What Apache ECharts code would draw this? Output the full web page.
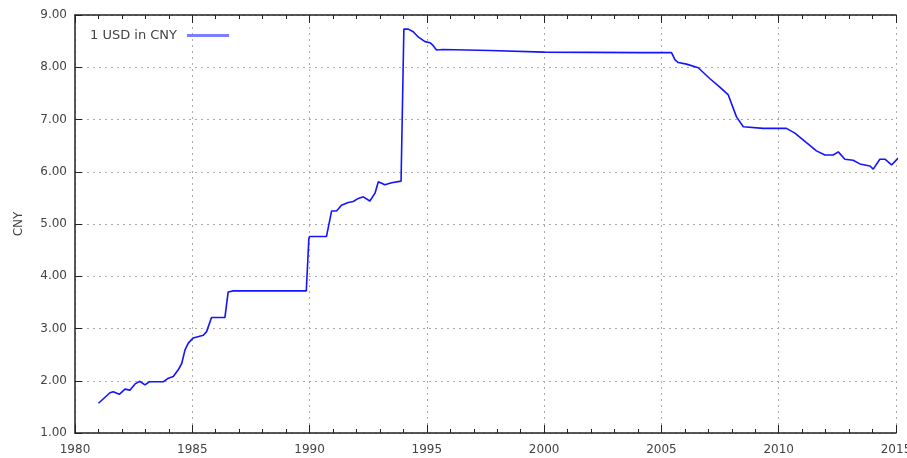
<!DOCTYPE html>
<html>
<head>
<meta charset="utf-8">
<script src="https://cdn.jsdelivr.net/npm/echarts@6/dist/echarts.min.js"></script>
<style>
  html, body { margin: 0; padding: 0; background: #fff; }
  #chart { width: 907px; height: 458px; }
</style>
</head>
<body>
<div id="chart"></div>
<script>
// years (decimal) and rate
const years = [
  1981.0, 1981.49, 1981.63, 1981.89, 1982.13, 1982.34, 1982.56, 1982.77, 1982.98, 1983.17,
  1983.76, 1983.98, 1984.19, 1984.40, 1984.55, 1984.69, 1984.83, 1985.04, 1985.47, 1985.61,
  1985.82, 1986.39, 1986.53, 1986.75, 1989.86, 1989.97, 1990.0, 1990.72, 1990.94, 1991.15,
  1991.36, 1991.65, 1991.86, 1992.08, 1992.29, 1992.57, 1992.79, 1992.93, 1993.21, 1993.50,
  1993.90, 1994.02, 1994.21, 1994.42, 1994.63, 1994.92, 1995.13, 1995.24, 1995.41, 1995.69,
  1997.69, 2000.0, 2004.08, 2005.43, 2005.58, 2005.72, 2006.07, 2006.57, 2007.07, 2007.49,
  2007.85, 2008.20, 2008.49, 2009.34, 2010.33, 2010.69, 2011.04, 2011.61, 2011.97, 2012.32,
  2012.54, 2012.82, 2013.17, 2013.46, 2013.89, 2014.03, 2014.31, 2014.53, 2014.81, 2015.09
]
const cny = [
  1.57, 1.77, 1.79, 1.74, 1.84, 1.82, 1.94, 1.99, 1.92, 1.98,
  1.98, 2.05, 2.08, 2.21, 2.33, 2.59, 2.72, 2.82, 2.87, 2.94,
  3.21, 3.21, 3.70, 3.72, 3.72, 4.72, 4.76, 4.76, 5.25, 5.25,
  5.36, 5.41, 5.43, 5.49, 5.52, 5.44, 5.59, 5.81, 5.75, 5.79,
  5.82, 8.73, 8.73, 8.68, 8.58, 8.49, 8.47, 8.43, 8.33, 8.34,
  8.32, 8.29, 8.28, 8.28, 8.14, 8.09, 8.06, 7.99, 7.78, 7.62,
  7.47, 7.05, 6.86, 6.83, 6.83, 6.74, 6.61, 6.40, 6.32, 6.32,
  6.38, 6.24, 6.22, 6.15, 6.11, 6.05, 6.24, 6.24, 6.13, 6.26
]
const seriesName = '1 USD in CNY'
const yName = 'CNY'

const points = years.map((y, i) => [y, cny[i]])

const chart = echarts.init(document.getElementById('chart'))
const axisColor = '#222'
const labelColor = '#444'
const gridLine = {
  show: true,
  lineStyle: { color: '#aaa', type: [2, 4], width: 1 },
}
chart.setOption({
  animation: false,
  textStyle: { fontFamily: 'DejaVu Sans' },
  grid: { left: 75, right: 11, top: 15, bottom: 25, outerBoundsMode: 'none', containLabel: false },
  legend: {
    left: 85,
    top: 24,
    align: 'right',
    itemWidth: 42,
    itemHeight: 3,
    itemGap: 10,
    textStyle: { fontSize: 13, color: labelColor, padding: [0, 5, 0, 0] },
    itemStyle: { color: '#7d7dff' },
    data: [{ name: seriesName, icon: 'rect' }],
  },
  xAxis: [
    {
      type: 'value',
      min: 1980,
      max: 2015,
      interval: 5,
      axisLine: { show: true, onZero: false, lineStyle: { color: axisColor, width: 1.5 } },
      axisTick: { show: true, inside: true, length: 8, lineStyle: { color: axisColor } },
      minorTick: { show: true, splitNumber: 5, length: 4, lineStyle: { color: axisColor } },
      axisLabel: { fontSize: 12, color: labelColor, margin: 11, formatter: v => String(v) },
      splitLine: gridLine,
    },
    {
      type: 'value',
      position: 'top',
      min: 1980,
      max: 2015,
      interval: 5,
      axisLine: { show: true, onZero: false, lineStyle: { color: axisColor, width: 1.5 } },
      axisTick: { show: true, inside: true, length: 8, lineStyle: { color: axisColor } },
      minorTick: { show: true, splitNumber: 5, length: 4, lineStyle: { color: axisColor } },
      axisLabel: { show: false },
      splitLine: { show: false },
    },
  ],
  yAxis: {
    type: 'value',
    min: 1,
    max: 9,
    interval: 1,
    name: yName,
    nameLocation: 'middle',
    nameGap: 50,
    nameTextStyle: { fontSize: 12, color: labelColor },
    axisLine: { show: true, onZero: false, lineStyle: { color: axisColor, width: 1.5 } },
    axisTick: { show: true, inside: true, length: 7, lineStyle: { color: axisColor } },
    axisLabel: { fontSize: 12, color: labelColor, margin: 8, formatter: v => v.toFixed(2) },
    splitLine: gridLine,
  },
  series: [
    {
      name: seriesName,
      type: 'line',
      data: points,
      showSymbol: false,
      symbol: 'none',
      clip: false,
      lineStyle: { color: '#1414ff', width: 1.6 },
      itemStyle: { color: '#1414ff' },
    },
  ],
})
</script>
</body>
</html>
